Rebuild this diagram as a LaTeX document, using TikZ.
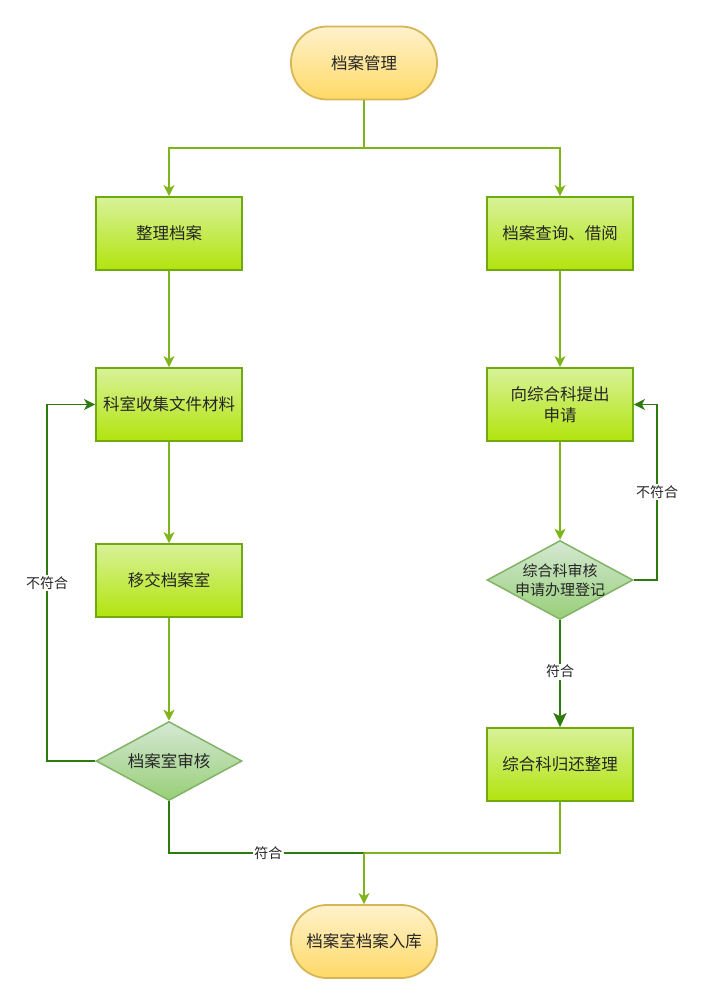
\documentclass[tikz,border=0pt]{standalone}
\usepackage{fontspec}
\setmainfont{Noto Sans CJK SC}
\usetikzlibrary{arrows.meta,shapes.geometric}
\definecolor{lg}{HTML}{7FB51A}
\definecolor{dg}{HTML}{2D7A0E}
\definecolor{boxline}{HTML}{6FAA10}
\definecolor{boxtop}{HTML}{D8F29A}
\definecolor{boxbot}{HTML}{B2E40C}
\definecolor{dtop}{HTML}{D5E8D4}
\definecolor{dbot}{HTML}{97CF77}
\definecolor{dline}{HTML}{82B366}
\definecolor{ttop}{HTML}{FFF2CC}
\definecolor{tbot}{HTML}{FFD966}
\definecolor{tline}{HTML}{D6B656}
\begin{document}
\begin{tikzpicture}[x=1pt,y=-1pt,
  every node/.style={font=\fontsize{16.5}{21}\selectfont, text=black!85, align=center, inner sep=0pt},
  stepbox/.style={rectangle, draw=boxline, line width=1.8pt, top color=boxtop, bottom color=boxbot, minimum width=146pt, minimum height=73pt},
  term/.style={rectangle, rounded corners=36pt, draw=tline, line width=1.8pt, top color=ttop, bottom color=tbot, minimum width=146pt, minimum height=73pt},
  decide/.style={diamond, aspect=1.87, draw=dline, line width=1.5pt, top color=dtop, bottom color=dbot, minimum width=146pt, minimum height=79pt},
  lconn/.style={draw=lg, line width=1.9pt},
  dconn/.style={draw=dg, line width=1.9pt},
  tip/.style={-{Stealth[length=11pt,width=11pt,inset=3pt]}},
  lab/.style={font=\fontsize{14}{16}\selectfont, fill=white, inner sep=1.5pt}
]
\useasboundingbox (0,0) rectangle (703,1003);
\node[term] (start) at (364,63) {档案管理};
\node[stepbox] (zl) at (169,233.5) {整理档案};
\node[stepbox] (cx) at (560,233.5) {档案查询、借阅};
\node[stepbox] (ks) at (169,404.5) {科室收集文件材料};
\node[stepbox] (sq) at (560,404.5) {向综合科提出\\申请};
\node[stepbox] (yj) at (169,580.5) {移交档案室};
\node[decide] (zh) at (560,580) {};
\node[font=\fontsize{15}{19}\selectfont] (zhtxt) at (zh.center) {综合科审核\\申请办理登记};
\node[decide] (sh) at (169,761) {};
\node (shtxt) at (sh.center) {档案室审核};
\node[stepbox] (gh) at (560,764.5) {综合科归还整理};
\node[term] (end) at (364,941.5) {档案室档案入库};
\coordinate (split) at (364,148);
\coordinate (join) at (364,853);

\draw[lconn] (start.south) -- (split);
\draw[lconn,tip] (split) -| (zl.north);
\draw[lconn,tip] (split) -| (cx.north);
\draw[lconn,tip] (zl) -- (ks);
\draw[lconn,tip] (ks) -- (yj);
\draw[lconn,tip] (yj) -- (sh);
\draw[lconn,tip] (cx) -- (sq);
\draw[lconn,tip] (sq) -- (zh);
\draw[dconn,tip] (sh.west) -- (47,761) -- node[lab,pos=0.5] {不符合} (47,404.5) -- (ks.west);
\draw[dconn,tip] (zh.east) -- (657,580) -- node[lab,pos=0.5] {不符合} (657,404.5) -- (sq.east);
\draw[dconn,-{Stealth[length=14pt,width=13pt,inset=3pt]}] (zh.south) -- node[lab,pos=0.48] {符合} (gh.north);
\draw[lconn] (gh.south) |- (join);
\draw[dconn] (sh.south) |- node[lab,pos=0.755] {符合} (join);
\draw[lconn,tip] (join) -- (end.north);
\end{tikzpicture}
\end{document}
